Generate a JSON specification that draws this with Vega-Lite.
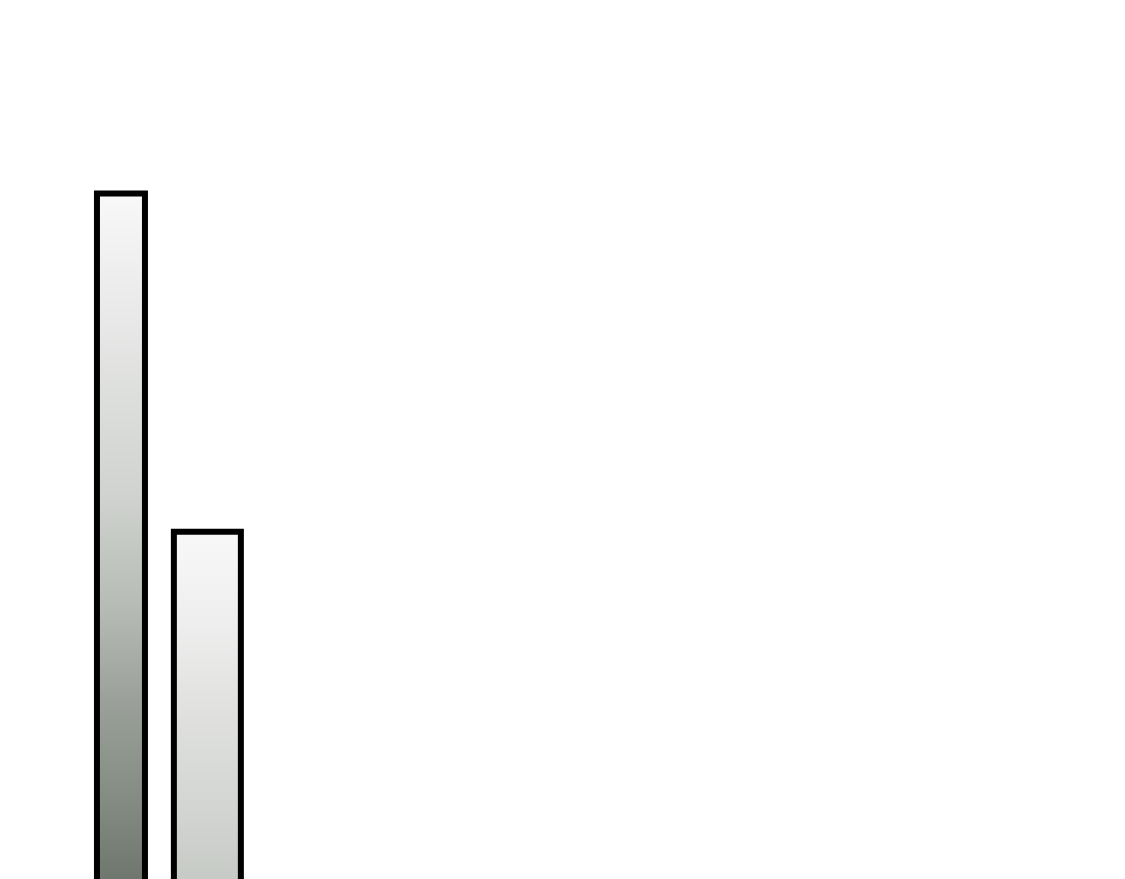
{
  "$schema": "https://vega.github.io/schema/vega-lite/v6.json",
  "width": 1125,
  "height": 879,
  "autosize": {"type": "fit", "contains": "padding"},
  "padding": 0,
  "background": "#ffffff",
  "config": {"view": {"stroke": null}},
  "data": {
    "values": [
      {"bar": "A", "pos": 10.4, "value": 78},
      {"bar": "B", "pos": 18.15, "value": 39.5}
    ]
  },
  "encoding": {
    "x": {"field": "pos", "type": "quantitative", "scale": {"domain": [0, 100]}, "axis": null},
    "y": {"field": "value", "type": "quantitative", "scale": {"domain": [0, 100]}, "axis": null},
    "y2": {"datum": -1}
  },
  "layer": [
    {
      "transform": [{"filter": "datum.bar === 'A'"}],
      "mark": {
        "type": "bar",
        "clip": true,
        "width": 48,
        "stroke": "#000000",
        "strokeWidth": 6,
        "fill": {
          "gradient": "linear",
          "x1": 0, "y1": 0, "x2": 0, "y2": 1,
          "stops": [
            {"offset": 0, "color": "#f8f8f8"},
            {"offset": 0.15, "color": "#ebebeb"},
            {"offset": 0.3, "color": "#dcdedb"},
            {"offset": 0.44, "color": "#cfd2ce"},
            {"offset": 0.585, "color": "#b8bdb7"},
            {"offset": 0.73, "color": "#9ba19a"},
            {"offset": 0.87, "color": "#848c83"},
            {"offset": 1, "color": "#6c746c"}
          ]
        }
      }
    },
    {
      "transform": [{"filter": "datum.bar === 'B'"}],
      "mark": {
        "type": "bar",
        "clip": true,
        "width": 67,
        "stroke": "#000000",
        "strokeWidth": 6,
        "fill": {
          "gradient": "linear",
          "x1": 0, "y1": 0, "x2": 0, "y2": 1,
          "stops": [
            {"offset": 0, "color": "#f8f8f8"},
            {"offset": 0.19, "color": "#f1f1f1"},
            {"offset": 0.47, "color": "#e2e3e1"},
            {"offset": 0.75, "color": "#d4d6d3"},
            {"offset": 1, "color": "#c5c9c4"}
          ]
        }
      }
    }
  ]
}
